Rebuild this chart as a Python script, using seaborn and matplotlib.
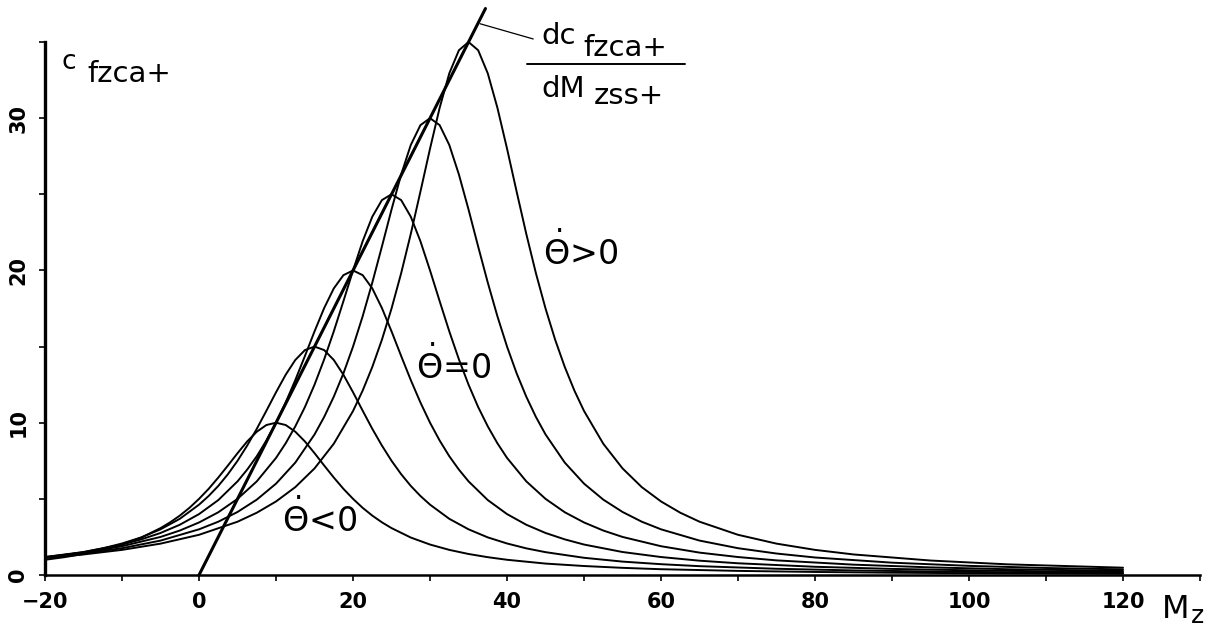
import pandas as pd
import matplotlib.pyplot as plt
import seaborn as sns

# curves c_fzca+ over M_z, one per peak
x_10 = [-20, -17.5, -15, -12.5, -10, -7.5, -5,
        -3.75, -2.5, -1.25, 0, 1.25, 2.5, 3.75, 5, 6.25, 7.5, 8.75, 10,
        11.25, 12.5, 13.75, 15, 16.25, 17.5, 18.75, 20, 21.25, 22.5, 23.75, 25,
        27.5, 30, 32.5, 35, 37.5, 40, 45, 50, 55, 60, 70, 80, 90, 100, 110, 120]
y_10 = [1.00, 1.17, 1.38, 1.65, 2.00, 2.46, 3.08,
        3.46, 3.90, 4.41, 5.00, 5.66, 6.40, 7.19, 8.00, 8.77, 9.41, 9.85, 10.00,
        9.85, 9.41, 8.77, 8.00, 7.19, 6.40, 5.66, 5.00, 4.41, 3.90, 3.46, 3.08,
        2.46, 2.00, 1.65, 1.38, 1.17, 1.00, 0.75, 0.59, 0.47, 0.38, 0.27, 0.20, 0.15, 0.12, 0.10, 0.08]

x_15 = [-20, -15, -12.5, -10, -7.5, -5, -2.5, 0,
        1.25, 2.5, 3.75, 5, 6.25, 7.5, 8.75, 10, 11.25, 12.5, 13.75, 15,
        16.25, 17.5, 18.75, 20, 21.25, 22.5, 23.75, 25, 26.25, 27.5, 28.75, 30,
        32.5, 35, 37.5, 40, 42.5, 45, 50, 55, 60, 65, 75, 85, 95, 105, 120]
y_15 = [1.13, 1.50, 1.75, 2.07, 2.47, 3.00, 3.69, 4.62,
        5.19, 5.85, 6.62, 7.50, 8.50, 9.60, 10.79, 12.00, 13.15, 14.12, 14.77, 15.00,
        14.77, 14.12, 13.15, 12.00, 10.79, 9.60, 8.50, 7.50, 6.62, 5.85, 5.19, 4.62,
        3.69, 3.00, 2.47, 2.07, 1.75, 1.50, 1.13, 0.88, 0.71, 0.58, 0.41, 0.30, 0.23, 0.18, 0.13]

x_20 = [-20, -15, -10, -7.5, -5, -2.5, 0, 2.5, 5,
        6.25, 7.5, 8.75, 10, 11.25, 12.5, 13.75, 15, 16.25, 17.5, 18.75, 20,
        21.25, 22.5, 23.75, 25, 26.25, 27.5, 28.75, 30, 31.25, 32.5, 33.75, 35,
        37.5, 40, 42.5, 45, 47.5, 50, 55, 60, 65, 70, 80, 90, 100, 110, 120]
y_20 = [1.18, 1.51, 2.00, 2.34, 2.76, 3.30, 4.00, 4.92, 6.15,
        6.92, 7.80, 8.83, 10.00, 11.33, 12.80, 14.38, 16.00, 17.53, 18.82, 19.69, 20.00,
        19.69, 18.82, 17.53, 16.00, 14.38, 12.80, 11.33, 10.00, 8.83, 7.80, 6.92, 6.15,
        4.92, 4.00, 3.30, 2.76, 2.34, 2.00, 1.51, 1.18, 0.94, 0.77, 0.54, 0.40, 0.31, 0.24, 0.20]

x_25 = [-20, -15, -10, -5, -2.5, 0, 2.5, 5, 7.5, 10,
        11.25, 12.5, 13.75, 15, 16.25, 17.5, 18.75, 20, 21.25, 22.5, 23.75, 25,
        26.25, 27.5, 28.75, 30, 31.25, 32.5, 33.75, 35, 36.25, 37.5, 38.75, 40,
        42.5, 45, 47.5, 50, 52.5, 55, 60, 65, 70, 75, 85, 95, 105, 120]
y_25 = [1.18, 1.47, 1.89, 2.50, 2.92, 3.45, 4.12, 5.00, 6.15, 7.69,
        8.65, 9.76, 11.03, 12.50, 14.16, 16.00, 17.98, 20.00, 21.92, 23.53, 24.62, 25.00,
        24.62, 23.53, 21.92, 20.00, 17.98, 16.00, 14.16, 12.50, 11.03, 9.76, 8.65, 7.69,
        6.15, 5.00, 4.12, 3.45, 2.92, 2.50, 1.89, 1.47, 1.18, 0.96, 0.68, 0.50, 0.38, 0.27]

x_30 = [-20, -15, -10, -5, 0, 2.5, 5, 7.5, 10, 12.5, 15,
        16.25, 17.5, 18.75, 20, 21.25, 22.5, 23.75, 25, 26.25, 27.5, 28.75, 30,
        31.25, 32.5, 33.75, 35, 36.25, 37.5, 38.75, 40, 41.25, 42.5, 43.75, 45,
        47.5, 50, 52.5, 55, 57.5, 60, 65, 70, 75, 80, 90, 100, 110, 120]
y_30 = [1.15, 1.41, 1.76, 2.26, 3.00, 3.50, 4.14, 4.95, 6.00, 7.38, 9.23,
        10.38, 11.71, 13.24, 15.00, 16.99, 19.20, 21.57, 24.00, 26.30, 28.24, 29.54, 30.00,
        29.54, 28.24, 26.30, 24.00, 21.57, 19.20, 16.99, 15.00, 13.24, 11.71, 10.38, 9.23,
        7.38, 6.00, 4.95, 4.14, 3.50, 3.00, 2.26, 1.76, 1.41, 1.15, 0.81, 0.60, 0.46, 0.37]

x_35 = [-20, -15, -10, -5, 0, 5, 7.5, 10, 12.5, 15, 17.5, 20,
        21.25, 22.5, 23.75, 25, 26.25, 27.5, 28.75, 30, 31.25, 32.5, 33.75, 35,
        36.25, 37.5, 38.75, 40, 41.25, 42.5, 43.75, 45, 46.25, 47.5, 48.75, 50,
        52.5, 55, 57.5, 60, 62.5, 65, 70, 75, 80, 85, 95, 105, 120]
y_35 = [1.12, 1.35, 1.65, 2.06, 2.64, 3.50, 4.09, 4.83, 5.77, 7.00, 8.62, 10.77,
        12.11, 13.66, 15.45, 17.50, 19.82, 22.40, 25.17, 28.00, 30.68, 32.94, 34.46, 35.00,
        34.46, 32.94, 30.68, 28.00, 25.17, 22.40, 19.82, 17.50, 15.45, 13.66, 12.11, 10.77,
        8.62, 7.00, 5.77, 4.83, 4.09, 3.50, 2.64, 2.06, 1.65, 1.35, 0.95, 0.70, 0.48]

# tangent dc_fzca+/dM_zss+ through the peaks
tangent_x = [0, 37.2]
tangent_y = [0, 37.2]

x_ticks = [-20, 0, 20, 40, 60, 80, 100, 120]
x_tick_labels = ["\u221220", "0", "20", "40", "60", "80", "100", "120"]
y_ticks = [0, 10, 20, 30]

curves = [(x_10, y_10), (x_15, y_15), (x_20, y_20), (x_25, y_25), (x_30, y_30), (x_35, y_35)]
df = pd.concat(
    [pd.DataFrame({"Mz": xs, "cf": ys, "curve": i}) for i, (xs, ys) in enumerate(curves)],
    ignore_index=True,
)

sns.set_style("white")
plt.rcParams["font.family"] = ["DejaVu Sans"]
plt.rcParams["mathtext.fontset"] = "dejavusans"
plt.rcParams["text.color"] = "black"
plt.rcParams["xtick.color"] = "black"
plt.rcParams["ytick.color"] = "black"

fig = plt.figure(figsize=(12.21, 6.3), dpi=100)
ax = fig.add_axes([0.0369, 0.0873, 0.9459, 0.846])

sns.lineplot(data=df, x="Mz", y="cf", units="curve", estimator=None,
             color="black", linewidth=1.4, ax=ax)
ax.plot(tangent_x, tangent_y, color="black", linewidth=2.2, clip_on=False)

ax.set_xlim(-20, 130)
ax.set_ylim(0, 35)
ax.set_xlabel("")
ax.set_ylabel("")

sns.despine(ax=ax)
ax.spines["left"].set_linewidth(2.4)
ax.spines["bottom"].set_linewidth(1.8)
ax.spines["left"].set_color("black")
ax.spines["bottom"].set_color("black")

ax.set_xticks(x_ticks)
ax.set_xticklabels(x_tick_labels, fontsize=15, fontweight="bold", color="black")
ax.set_xticks(range(-10, 131, 10), minor=True)
ax.set_yticks(y_ticks)
ax.set_yticklabels([str(v) for v in y_ticks], fontsize=15, fontweight="bold",
                   rotation=90, va="center", color="black")
ax.set_yticks([5, 15, 25, 35], minor=True)
ax.tick_params(axis="both", which="both", direction="out", length=4, width=1.2,
               color="black", bottom=True, left=True)
ax.tick_params(axis="x", pad=8)
ax.tick_params(axis="y", pad=8)

# y label c_fzca+
ax.text(-17.9, 33.2, "c", fontsize=19, va="baseline", ha="left", color="black")
ax.text(-14.5, 32.4, "fzca+", fontsize=21, va="baseline", ha="left", color="black")

# fraction label with leader line
ax.plot([36.5, 43.4], [36.2, 35.2], color="black", linewidth=0.9, clip_on=False)
ax.text(44.5, 34.9, "dc", fontsize=21, va="baseline", ha="left", clip_on=False, color="black")
ax.text(49.9, 34.1, "fzca+", fontsize=21, va="baseline", ha="left", clip_on=False, color="black")
ax.plot([42.6, 63.1], [33.55, 33.55], color="black", linewidth=1.4, clip_on=False)
ax.text(44.5, 31.4, "dM", fontsize=21, va="baseline", ha="left", color="black")
ax.text(51.2, 30.9, "zss+", fontsize=21, va="baseline", ha="left", color="black")

# theta-dot labels
ax.text(49.6, 21.2, r"$\dot{\Theta}$>0", fontsize=24, ha="center", va="center", color="black")
ax.text(33.1, 13.75, r"$\dot{\Theta}$=0", fontsize=24, ha="center", va="center", color="black")
ax.text(15.6, 3.7, r"$\dot{\Theta}$<0", fontsize=24, ha="center", va="center", color="black")

# x label M_z
ax.text(125.0, -2.8, "M", fontsize=23, va="baseline", ha="left", clip_on=False, color="black")
ax.text(128.8, -3.5, "z", fontsize=18, va="bottom", ha="left", clip_on=False, color="black")

fig.savefig("out.png", dpi=100)
